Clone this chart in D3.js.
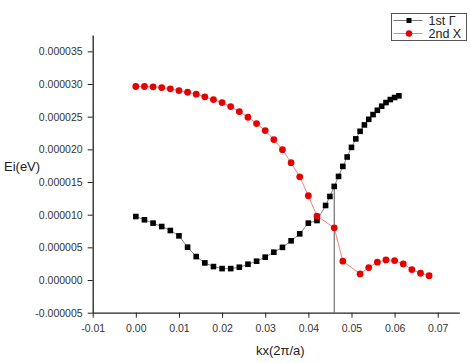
<!DOCTYPE html>
<html>
<head>
<meta charset="utf-8">
<script src="https://cdn.jsdelivr.net/npm/d3@7"></script>
<style>
  body { margin: 0; background: #fff; }
  text { font-family: "Liberation Sans", Arial, sans-serif; }
</style>
</head>
<body>
<div id="chart"></div>
<script>
// 1st Gamma band
var gammaX = [0, 0.002, 0.004, 0.006, 0.008, 0.010, 0.012, 0.014, 0.016, 0.018,
  0.020, 0.022, 0.024, 0.026, 0.028, 0.030, 0.032, 0.034, 0.036, 0.038, 0.040, 0.042,
  0.044, 0.045, 0.046, 0.047, 0.048, 0.049, 0.050, 0.051, 0.052, 0.053, 0.054, 0.055,
  0.056, 0.057, 0.058, 0.059, 0.060, 0.061];
var gammaY = [9.72, 9.22, 8.71, 8.19, 7.58, 6.76, 5.03, 3.59, 2.62, 2.06,
  1.75, 1.75, 1.96, 2.42, 2.88, 3.50, 4.26, 5.00, 6.00, 7.07, 8.71, 9.11,
  11.41, 12.79, 14.33, 15.86, 17.39, 18.83, 20.30, 21.60, 22.76, 23.74, 24.60, 25.32,
  25.98, 26.60, 27.16, 27.62, 27.93, 28.19];

// 2nd X band
var xbandX = [0, 0.002, 0.004, 0.006, 0.008, 0.010, 0.012, 0.014, 0.016, 0.018,
  0.020, 0.022, 0.024, 0.026, 0.028, 0.030, 0.032, 0.034, 0.036, 0.038, 0.040, 0.042,
  0.046, 0.048, 0.052, 0.054, 0.056, 0.058, 0.060, 0.062, 0.064, 0.066, 0.068];
var xbandY = [29.62, 29.62, 29.57, 29.46, 29.26, 29.00, 28.74, 28.44, 28.04, 27.62,
  27.16, 26.55, 25.78, 24.91, 23.94, 22.87, 21.49, 19.95, 17.96, 15.80, 12.90, 9.79,
  7.99, 2.88, 0.94, 1.90, 2.73, 3.08, 2.98, 2.47, 1.60, 1.04, 0.67];

var xTicks = [-0.01, 0, 0.01, 0.02, 0.03, 0.04, 0.05, 0.06, 0.07];
var yTicks = [-0.000005, 0, 0.000005, 0.00001, 0.000015, 0.00002, 0.000025, 0.00003, 0.000035];
var markerX = 0.046;

var scaleE = 1e-6;
var gamma = gammaX.map(function(x, i) { return {x: x, y: gammaY[i] * scaleE}; });
var xband = xbandX.map(function(x, i) { return {x: x, y: xbandY[i] * scaleE}; });

var W = 470, H = 363;
var margin = {top: 35, right: 10.7, bottom: 50.3, left: 92.7};

var svg = d3.select("#chart").append("svg")
  .attr("width", W).attr("height", H);

var x = d3.scaleLinear().domain([-0.01, 0.075])
  .range([margin.left, W - margin.right]);
var y = d3.scaleLinear().domain([-0.000005, 0.0000375])
  .range([H - margin.bottom, margin.top]);

// minor ticks
var xMinor = d3.range(-0.005, 0.075, 0.01);
var yMinor = d3.range(-0.0000025, 0.0000375, 0.000005);

var xAxis = svg.append("g")
  .attr("transform", "translate(0," + (H - margin.bottom) + ")");
xAxis.call(d3.axisBottom(x).tickValues(xMinor).tickSize(3).tickFormat(""));
xAxis.call(d3.axisBottom(x).tickValues(xTicks).tickSize(5).tickSizeOuter(0)
  .tickFormat(function(d) { return d.toFixed(2); }));

var yAxis = svg.append("g")
  .attr("transform", "translate(" + margin.left + ",0)");
yAxis.call(d3.axisLeft(y).tickValues(yMinor).tickSize(3).tickFormat(""));
yAxis.call(d3.axisLeft(y).tickValues(yTicks).tickSize(5).tickSizeOuter(0)
  .tickFormat(function(d) { return d.toFixed(6); }));

svg.selectAll(".domain").attr("stroke", "#222").attr("stroke-width", 1.3);
svg.selectAll(".tick line").attr("stroke", "#222");
svg.selectAll(".tick text").attr("font-size", "10.5px").attr("fill", "#333")
  .attr("font-family", "Liberation Sans, Arial, sans-serif");
xAxis.selectAll(".tick text").attr("dy", "1.1em");
yAxis.selectAll(".tick text").attr("dx", "-0.2em");

// axis titles
svg.append("text")
  .attr("x", 4).attr("y", 171)
  .attr("font-size", "13px").attr("fill", "#222")
  .text("Ei(eV)");
svg.append("text")
  .attr("x", x(0.0335)).attr("y", 355)
  .attr("text-anchor", "middle")
  .attr("font-size", "13px").attr("fill", "#222")
  .text("kx(2\u03c0/a)");

// vertical marker line
var markerPt = gamma.find(function(d) { return Math.abs(d.x - markerX) < 1e-9; });
svg.append("line")
  .attr("x1", x(markerX)).attr("x2", x(markerX))
  .attr("y1", y(markerPt.y)).attr("y2", y(-0.000005))
  .attr("stroke", "#555").attr("stroke-width", 1);

var line = d3.line().x(function(d) { return x(d.x); }).y(function(d) { return y(d.y); });

svg.append("path").datum(gamma)
  .attr("fill", "none").attr("stroke", "#666").attr("stroke-width", 0.8)
  .attr("d", line);
svg.append("path").datum(xband)
  .attr("fill", "none").attr("stroke", "#f27070").attr("stroke-width", 0.9)
  .attr("d", line);

var sq = 5.6;
svg.selectAll(".sq").data(gamma).enter().append("rect")
  .attr("class", "sq")
  .attr("x", function(d) { return x(d.x) - sq / 2; })
  .attr("y", function(d) { return y(d.y) - sq / 2; })
  .attr("width", sq).attr("height", sq)
  .attr("fill", "#000");

svg.selectAll(".dot").data(xband).enter().append("circle")
  .attr("class", "dot")
  .attr("cx", function(d) { return x(d.x); })
  .attr("cy", function(d) { return y(d.y); })
  .attr("r", 3.4)
  .attr("fill", "#e60000");

// legend
var lg = svg.append("g").attr("transform", "translate(391.5,13.5)");
lg.append("rect").attr("width", 75).attr("height", 27)
  .attr("fill", "#fff").attr("stroke", "#555").attr("stroke-width", 1);
var legendItems = [
  {label: "1st \u0393", color: "#666", mark: "sq"},
  {label: "2nd X", color: "#f27070", mark: "dot"}
];
legendItems.forEach(function(it, i) {
  var cy = 7 + i * 13;
  lg.append("line").attr("x1", 2).attr("x2", 31).attr("y1", cy).attr("y2", cy)
    .attr("stroke", it.color).attr("stroke-width", 0.9);
  if (it.mark === "sq") {
    lg.append("rect").attr("x", 17.5 - 2.5).attr("y", cy - 2.5)
      .attr("width", 5).attr("height", 5).attr("fill", "#000");
  } else {
    lg.append("circle").attr("cx", 17.5).attr("cy", cy).attr("r", 3.2).attr("fill", "#e60000");
  }
  lg.append("text").attr("x", 37).attr("y", cy + 4.3)
    .attr("font-size", "12.5px").attr("fill", "#222")
    .text(it.label);
});
</script>
</body>
</html>
